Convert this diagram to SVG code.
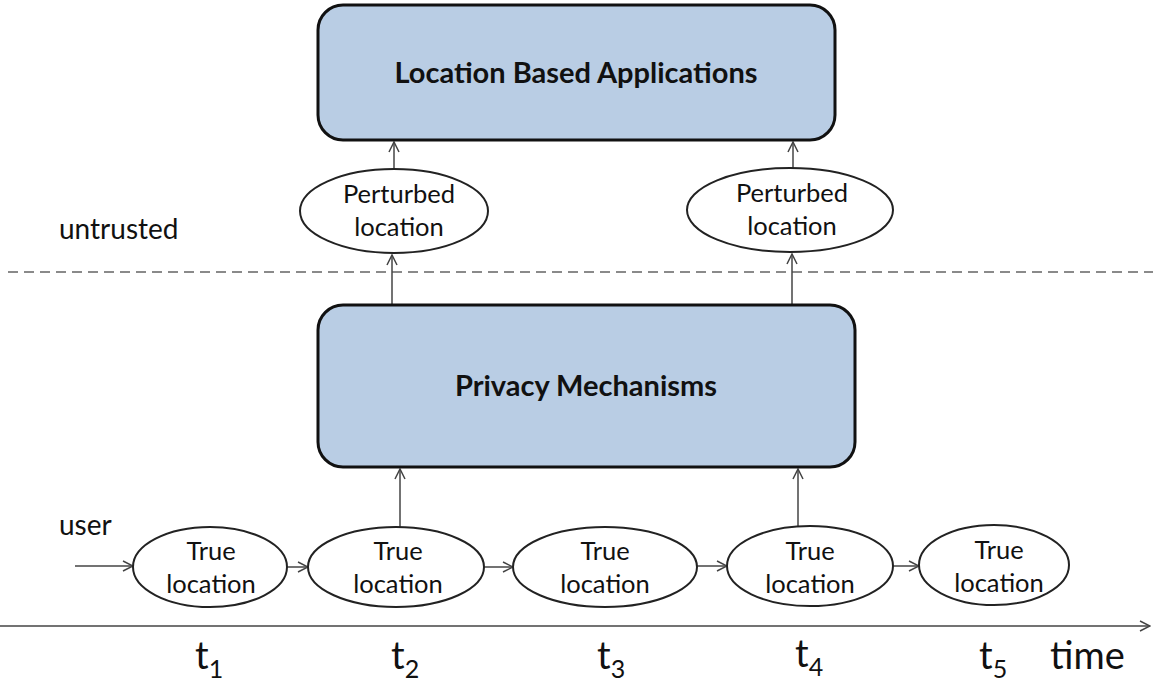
<svg xmlns="http://www.w3.org/2000/svg" width="1153" height="684" viewBox="0 0 1153 684">
  <style>
    .box { fill: #b9cde4; stroke: #111; stroke-width: 3; }
    .ell { fill: #fff; stroke: #222; stroke-width: 2; }
    .conn { stroke: #444; stroke-width: 1.5; fill: none; marker-end: url(#open); }
    .t { font-family: Lato, "Open Sans", "Liberation Sans", sans-serif; fill: #111; }
    .bold { font-weight: bold; font-size: 29px; }
    .lbl { font-size: 25.5px; }
    .side { font-size: 28px; }
    .tick { font-size: 38px; }
    .sub { font-size: 25px; }
  </style>
  <defs>
    <marker id="open" viewBox="0 0 12 12" refX="11" refY="6" markerWidth="12" markerHeight="12" markerUnits="userSpaceOnUse" orient="auto">
      <path d="M1,1 L11,6 L1,11" fill="none" stroke="#444" stroke-width="1.5"/>
    </marker>
  </defs>

  <rect width="1153" height="684" fill="#fff"/>

  <!-- trust boundary -->
  <line x1="8" y1="272" x2="1153" y2="272" stroke="#8a8a8a" stroke-width="2" stroke-dasharray="10 6"/>
  <text class="t side" x="59" y="239">untrusted</text>
  <text class="t side" x="59" y="535">user</text>

  <g id="connectors">
    <line class="conn" x1="394" y1="170" x2="394" y2="142"/>
    <line class="conn" x1="793" y1="169" x2="793" y2="142"/>
    <line class="conn" x1="392" y1="305" x2="392" y2="255"/>
    <line class="conn" x1="792" y1="305" x2="792" y2="254"/>
    <line class="conn" x1="400" y1="527" x2="400" y2="469"/>
    <line class="conn" x1="798" y1="527" x2="798" y2="469"/>
    <line class="conn" x1="75" y1="566" x2="133" y2="566"/>
    <line class="conn" x1="287" y1="567" x2="308" y2="567"/>
    <line class="conn" x1="484" y1="567" x2="513" y2="567"/>
    <line class="conn" x1="697" y1="566" x2="727" y2="566"/>
    <line class="conn" x1="893" y1="566" x2="919" y2="566"/>
    <line class="conn" x1="0" y1="626" x2="1150" y2="626"/>
  </g>

  <g id="lba">
    <rect class="box" x="318" y="5" width="517" height="135" rx="25"/>
    <text class="t bold" x="576" y="83" text-anchor="middle">Location Based Applications</text>
  </g>

  <g id="pm">
    <rect class="box" x="318" y="305" width="537" height="162" rx="25"/>
    <text class="t bold" x="586" y="396" text-anchor="middle">Privacy Mechanisms</text>
  </g>

  <g id="perturbed1">
    <ellipse class="ell" cx="394" cy="211" rx="94" ry="42"/>
    <text class="t lbl" x="399" y="203" text-anchor="middle">Perturbed</text>
    <text class="t lbl" x="399" y="236" text-anchor="middle">location</text>
  </g>
  <g id="perturbed2">
    <ellipse class="ell" cx="790" cy="210" rx="103" ry="42"/>
    <text class="t lbl" x="792" y="202" text-anchor="middle">Perturbed</text>
    <text class="t lbl" x="792" y="235" text-anchor="middle">location</text>
  </g>

  <g id="true1">
    <ellipse class="ell" cx="210" cy="567" rx="77" ry="40"/>
    <text class="t lbl" x="211" y="560" text-anchor="middle">True</text>
    <text class="t lbl" x="211" y="593" text-anchor="middle">location</text>
  </g>
  <g id="true2">
    <ellipse class="ell" cx="396" cy="567" rx="88" ry="40"/>
    <text class="t lbl" x="398" y="560" text-anchor="middle">True</text>
    <text class="t lbl" x="398" y="593" text-anchor="middle">location</text>
  </g>
  <g id="true3">
    <ellipse class="ell" cx="605" cy="567" rx="92" ry="40"/>
    <text class="t lbl" x="605" y="560" text-anchor="middle">True</text>
    <text class="t lbl" x="605" y="593" text-anchor="middle">location</text>
  </g>
  <g id="true4">
    <ellipse class="ell" cx="810" cy="566" rx="83" ry="40"/>
    <text class="t lbl" x="810" y="560" text-anchor="middle">True</text>
    <text class="t lbl" x="810" y="593" text-anchor="middle">location</text>
  </g>
  <g id="true5">
    <ellipse class="ell" cx="994" cy="565" rx="75" ry="40"/>
    <text class="t lbl" x="999" y="559" text-anchor="middle">True</text>
    <text class="t lbl" x="999" y="592" text-anchor="middle">location</text>
  </g>

  <g id="ticks">
    <text class="t tick" x="195" y="669">t<tspan class="sub" dy="9">1</tspan></text>
    <text class="t tick" x="391" y="669">t<tspan class="sub" dy="9">2</tspan></text>
    <text class="t tick" x="597" y="669">t<tspan class="sub" dy="9">3</tspan></text>
    <text class="t tick" x="795" y="667">t<tspan class="sub" dy="9">4</tspan></text>
    <text class="t tick" x="979" y="669">t<tspan class="sub" dy="9">5</tspan></text>
    <text class="t tick" x="1050" y="669">time</text>
  </g>
</svg>
